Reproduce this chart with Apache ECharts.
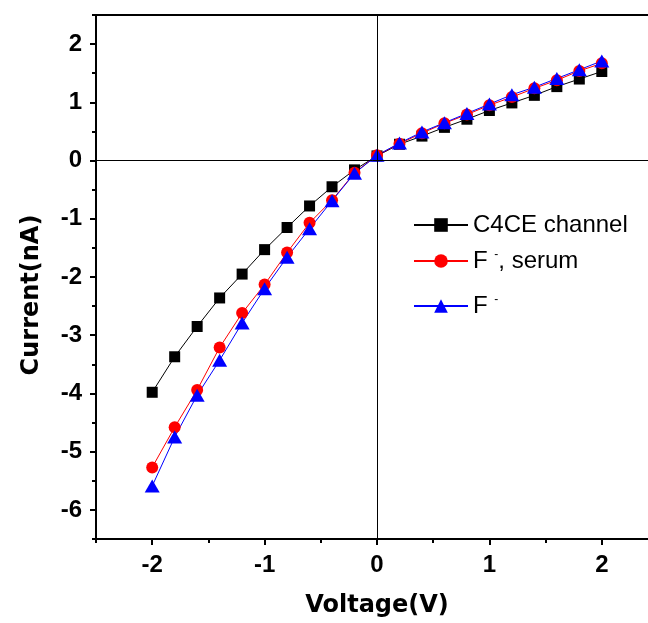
<!DOCTYPE html>
<html>
<head>
<meta charset="utf-8">
<script src="https://cdn.jsdelivr.net/npm/echarts@6/dist/echarts.min.js"></script>
<style>html,body{margin:0;padding:0;background:#fff}#c{width:648px;height:623px}</style>
</head>
<body>
<div id="c"></div>
<script>
const voltage = [-2,-1.8,-1.6,-1.4,-1.2,-1.0,-0.8,-0.6,-0.4,-0.2,0,0.2,0.4,0.6,0.8,1.0,1.2,1.4,1.6,1.8,2.0];
const c4ce   = [-3.98,-3.37,-2.85,-2.36,-1.95,-1.53,-1.15,-0.78,-0.45,-0.16,0.08,0.28,0.42,0.57,0.71,0.86,0.99,1.12,1.27,1.40,1.53];
const fSerum = [-5.27,-4.58,-3.94,-3.21,-2.62,-2.13,-1.58,-1.07,-0.68,-0.21,0.09,0.29,0.47,0.64,0.79,0.95,1.09,1.24,1.38,1.54,1.67];
const fIon   = [-5.59,-4.75,-4.03,-3.43,-2.79,-2.20,-1.66,-1.17,-0.69,-0.22,0.09,0.30,0.49,0.65,0.81,0.97,1.13,1.26,1.41,1.56,1.71];
const seriesNames = ['C4CE channel', 'F-, serum', 'F-'];
const legendLabels = ['{a|C4CE channel}', '{a|F }{s|-}{a|, serum}', '{a|F }{s|-}'];
const xTicks = [-2,-1,0,1,2];
const xMinorTicks = [-2.5,-1.5,-0.5,0.5,1.5,2.5];
const yTicks = [-6,-5,-4,-3,-2,-1,0,1,2];
const yMinorTicks = [-6.5,-5.5,-4.5,-3.5,-2.5,-1.5,-0.5,0.5,1.5,2.5];

const pair = arr => voltage.map((v,i)=>[v, arr[i]]);
const gridPos = {left:96, right:-10, top:15, bottom:84, outerBoundsMode:'none', containLabel:false};
const tickFont = {fontFamily:'Liberation Sans, Arial, sans-serif', fontWeight:'bold', fontSize:24, color:'#000'};
const nameFont = {fontFamily:'DejaVu Sans, sans-serif', fontWeight:'bold', fontSize:24, color:'#000'};
const rich = {
  a:{fontFamily:'Liberation Sans, Arial, sans-serif', fontSize:24, color:'#000', lineHeight:24},
  s:{fontFamily:'Liberation Sans, Arial, sans-serif', fontSize:12, color:'#000', lineHeight:24, verticalAlign:'top', padding:[0,0,10,0]}
};
const legendTops = [213, 249, 294];
const legends = seriesNames.map((n,i)=>({
  data:[n], left:413, top:legendTops[i], orient:'vertical', padding:0,
  itemWidth:54, itemHeight:17, itemGap:0,
  formatter: () => legendLabels[i],
  textStyle:{rich:rich, fontSize:24}
}));

const chart = echarts.init(document.getElementById('c'), null, {renderer:'canvas'});
chart.setOption({
  animation:false,
  backgroundColor:'#fff',
  grid:[Object.assign({show:true, borderColor:'#000', borderWidth:2, backgroundColor:'transparent'}, gridPos),
        Object.assign({show:false}, gridPos)],
  legend: legends,
  xAxis:[
    {type:'value', gridIndex:0, min:-2.5, max:2.5, interval:0.5,
     name:'Voltage(V)', nameLocation:'middle', nameGap:55, nameTextStyle:nameFont,
     axisLine:{onZero:false, lineStyle:{color:'#000', width:2}},
     axisTick:{show:true, inside:false, length:6, customValues:xTicks, lineStyle:{color:'#000', width:2}},
     axisLabel:{customValues:xTicks, margin:14, ...tickFont},
     splitLine:{show:false}},
    {type:'value', gridIndex:1, min:-2.5, max:2.5, interval:0.5,
     axisLine:{show:false, onZero:false},
     axisTick:{show:true, inside:false, length:4, customValues:xMinorTicks, lineStyle:{color:'#000', width:2}},
     axisLabel:{show:false}, splitLine:{show:false}}
  ],
  yAxis:[
    {type:'value', gridIndex:0, min:-6.5, max:2.5, interval:0.5,
     name:'Current(nA)', nameLocation:'middle', nameGap:52, nameRotate:90,
     nameTextStyle:Object.assign({padding:[0,36,0,0]}, nameFont),
     axisLine:{onZero:false, lineStyle:{color:'#000', width:2}},
     axisTick:{show:true, inside:false, length:6, customValues:yTicks, lineStyle:{color:'#000', width:2}},
     axisLabel:{customValues:yTicks, margin:14, ...tickFont},
     splitLine:{show:false}},
    {type:'value', gridIndex:1, min:-6.5, max:2.5, interval:0.5,
     axisLine:{show:false, onZero:false},
     axisTick:{show:true, inside:false, length:4, customValues:yMinorTicks, lineStyle:{color:'#000', width:2}},
     axisLabel:{show:false}, splitLine:{show:false}}
  ],
  series:[
    {name:seriesNames[0], type:'line', xAxisIndex:0, yAxisIndex:0, data:pair(c4ce),
     symbol:'rect', symbolSize:11, color:'#000',
     lineStyle:{color:'#000', width:1}, itemStyle:{color:'#000'},
     markLine:{silent:true, symbol:'none', label:{show:false},
       lineStyle:{color:'#000', width:1, type:'solid'},
       data:[{xAxis:0},{yAxis:0}]}},
    {name:seriesNames[1], type:'line', xAxisIndex:0, yAxisIndex:0, data:pair(fSerum),
     symbol:'circle', symbolSize:12, color:'#ff0000',
     lineStyle:{color:'#ff0000', width:1}, itemStyle:{color:'#ff0000'}},
    {name:seriesNames[2], type:'line', xAxisIndex:0, yAxisIndex:0, data:pair(fIon),
     symbol:'triangle', symbolSize:[15,13], color:'#0000ff',
     lineStyle:{color:'#0000ff', width:1}, itemStyle:{color:'#0000ff'}}
  ]
});
</script>
</body>
</html>
